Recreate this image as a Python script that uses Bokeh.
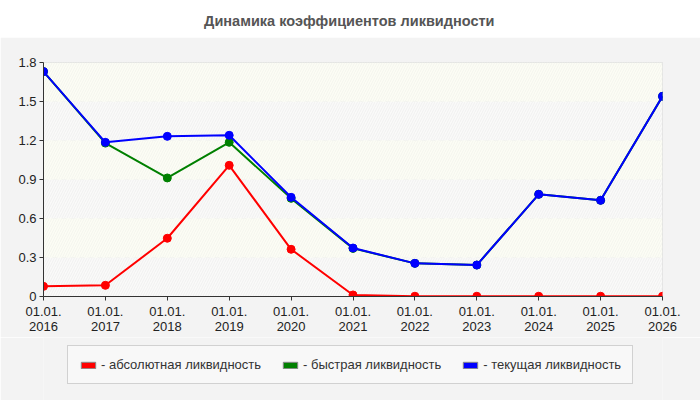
from bokeh.plotting import figure
from bokeh.layouts import column
from bokeh.embed import file_html
from bokeh.resources import INLINE
from bokeh.models import (ColumnDataSource, Range1d, FixedTicker, Legend, LegendItem,
                          BoxAnnotation, Label)

# Годы (на 01.01) и коэффициенты ликвидности
years = [2016, 2017, 2018, 2019, 2020, 2021, 2022, 2023, 2024, 2025, 2026]
absolute = [0.078, 0.086, 0.448, 1.009, 0.363, 0.012, 0.002, 0.002, 0.002, 0.002, 0.002]
quick = [1.73, 1.18, 0.912, 1.186, 0.755, 0.37, 0.255, 0.242, 0.786, 0.74, 1.54]
current = [1.73, 1.186, 1.232, 1.24, 0.763, 0.373, 0.255, 0.242, 0.786, 0.74, 1.54]

series_names = ["- абсолютная ликвидность", "- быстрая ликвидность", "- текущая ликвидность"]
series_colors = ["#ff0000", "#008000", "#0000ff"]

y_ticks = [0, 0.3, 0.6, 0.9, 1.2, 1.5, 1.8]
y_labels = ["0", "0.3", "0.6", "0.9", "1.2", "1.5", "1.8"]
x_labels = ["01.01.\n%d" % y for y in years]

title_text = "Динамика коэффициентов ликвидности"
FONT = "Liberation Sans"
PANEL = "#f3f3f3"

source = ColumnDataSource(dict(x=years, a=absolute, q=quick, c=current))


def blank(fig, bg):
    fig.axis.visible = False
    fig.grid.visible = False
    fig.outline_line_color = None
    fig.background_fill_color = bg
    fig.border_fill_color = bg


# заголовок отдельной узкой фигурой
t = figure(width=700, height=37, output_backend="svg", toolbar_location=None,
           min_border=0, x_range=Range1d(0, 1), y_range=Range1d(0, 1))
blank(t, "#ffffff")
t.add_layout(Label(x=0.494, y=0.45, text=title_text, text_font=FONT,
                   text_font_size="14.5px", text_font_style="bold", text_color="#555555",
                   text_align="center", text_baseline="middle"))

# основной график
p = figure(width=700, height=300, output_backend="svg", toolbar_location=None,
           x_range=Range1d(2016, 2026), y_range=Range1d(0, 1.8),
           min_border_left=43, min_border_right=38, min_border_top=25, min_border_bottom=41)

p.background_fill_color = "#fcfdf5"
p.border_fill_color = PANEL
p.outline_line_color = "#dddddd"

# полосы со штриховкой
for lo in [0, 0.6, 1.2]:
    p.add_layout(BoxAnnotation(bottom=lo, top=lo + 0.3, fill_color="#fafaf9", fill_alpha=1,
                               line_alpha=0, hatch_pattern="/", hatch_color="#f0f0f0",
                               hatch_scale=5, hatch_weight=1, level="underlay"))
for lo in [0.3, 0.9, 1.5]:
    p.add_layout(BoxAnnotation(bottom=lo, top=lo + 0.3, fill_color="#fcfdf5", fill_alpha=1,
                               line_alpha=0, hatch_pattern="/", hatch_color="#f4f5ee",
                               hatch_scale=5, hatch_weight=1, level="underlay"))

# сетка
p.xgrid.ticker = FixedTicker(ticks=years)
p.ygrid.ticker = FixedTicker(ticks=y_ticks)
p.grid.grid_line_color = "#dddddd"
p.grid.grid_line_dash = "5 4"
p.grid.level = "underlay"

# оси
p.xaxis.ticker = FixedTicker(ticks=years)
p.xaxis.major_label_overrides = {y: lab for y, lab in zip(years, x_labels)}
p.yaxis.ticker = FixedTicker(ticks=y_ticks)
p.yaxis.major_label_overrides = {v: lab for v, lab in zip(y_ticks, y_labels)}
for ax in (p.xaxis, p.yaxis):
    ax.axis_line_color = "#333333"
    ax.major_tick_line_color = "#333333"
    ax.major_tick_in = 0
    ax.major_tick_out = 4
    ax.minor_tick_line_color = None
    ax.major_label_text_font = FONT
    ax.major_label_text_font_size = "13px"
    ax.major_label_text_color = "#222222"
p.xaxis.major_label_text_line_height = 1.0
p.xaxis.major_label_standoff = 3
p.yaxis.major_label_standoff = 3

# линии
for col, color in zip(["a", "q", "c"], series_colors):
    p.line("x", col, source=source, line_color=color, line_width=2)
    p.scatter("x", col, source=source, size=8, fill_color=color, line_color=color)

# легенда — отдельная полоса под графиком (рамки выровнены колонкой)
lg = figure(width=700, height=63, output_backend="svg", toolbar_location=None,
            min_border=0, x_range=Range1d(0, 1), y_range=Range1d(0, 1))
blank(lg, PANEL)
items = []
for name, color, col in zip(series_names, series_colors, ["a", "q", "c"]):
    # нулевые прямоугольники вне видимой области — только как образец для легенды
    r = lg.quad(left="x", right="x", top=col, bottom=col, source=source,
                fill_color=color, line_color="#888888")
    items.append(LegendItem(label=name, renderers=[r]))
legend = Legend(items=items, orientation="horizontal", location=(24, 16),
                glyph_width=18, glyph_height=8, label_standoff=4, spacing=20,
                padding=11, margin=0, label_text_font=FONT, label_text_font_size="13px",
                label_text_color="#333333", background_fill_color="#f8f8f8",
                background_fill_alpha=1, border_line_color="#aaaaaa")
lg.add_layout(legend, "center")

layout = column(t, p, lg, spacing=0)
open("out.html", "w").write(file_html(layout, INLINE))
